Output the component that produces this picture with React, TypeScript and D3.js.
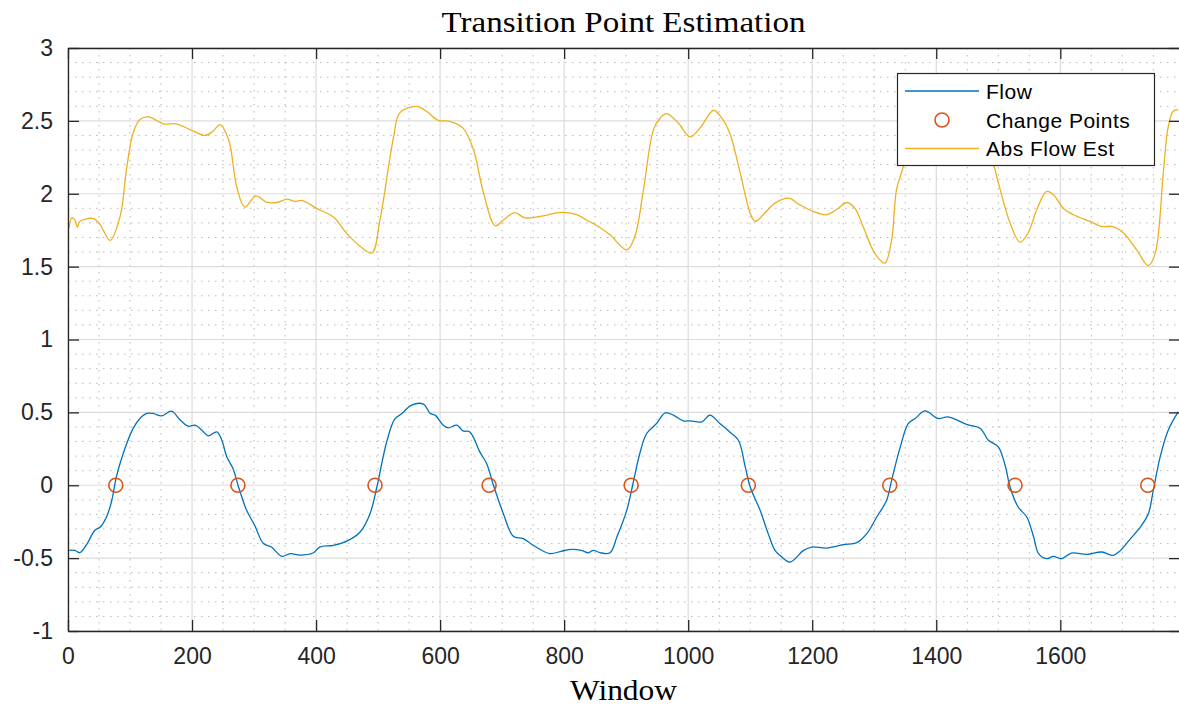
import React, { useEffect, useRef } from 'react';
import * as d3 from 'd3';

// Flow (blue) - window index / value
const flowWindow = [2, 11, 19, 31, 43, 52, 62, 70, 78, 89, 105, 116, 127, 137, 151, 167, 181, 194, 205, 216, 226, 240, 248, 256, 266, 275, 288, 301, 315, 328, 345, 358, 374, 395, 406, 428, 452, 471, 487, 498, 514, 527, 538, 554, 573, 584, 592, 605, 613, 627, 637, 648, 664, 675, 686, 702, 718, 734, 750, 777, 796, 812, 828, 839, 847, 858, 874, 885, 901, 911, 922, 933, 949, 963, 976, 992, 1003, 1022, 1035, 1051, 1067, 1081, 1092, 1100, 1116, 1129, 1140, 1148, 1164, 1186, 1199, 1223, 1250, 1272, 1288, 1304, 1320, 1328, 1342, 1355, 1366, 1382, 1403, 1419, 1449, 1471, 1484, 1500, 1511, 1519, 1532, 1546, 1557, 1565, 1578, 1589, 1602, 1618, 1643, 1667, 1685, 1696, 1712, 1731, 1742, 1750, 1761, 1774, 1790];
const flowValue = [-0.447, -0.447, -0.463, -0.4, -0.31, -0.287, -0.218, -0.115, 0.057, 0.218, 0.39, 0.458, 0.493, 0.493, 0.476, 0.508, 0.447, 0.405, 0.412, 0.378, 0.339, 0.366, 0.309, 0.195, 0.115, -0.012, -0.172, -0.275, -0.4, -0.424, -0.488, -0.469, -0.479, -0.465, -0.424, -0.412, -0.378, -0.321, -0.195, -0.012, 0.3, 0.455, 0.49, 0.55, 0.557, 0.493, 0.481, 0.412, 0.394, 0.412, 0.373, 0.366, 0.229, 0.149, 0.0, -0.195, -0.35, -0.366, -0.412, -0.469, -0.452, -0.44, -0.447, -0.463, -0.447, -0.463, -0.463, -0.355, -0.172, 0.012, 0.218, 0.355, 0.424, 0.497, 0.481, 0.442, 0.442, 0.435, 0.481, 0.424, 0.366, 0.309, 0.126, -0.012, -0.172, -0.332, -0.447, -0.481, -0.527, -0.447, -0.424, -0.431, -0.408, -0.394, -0.332, -0.218, -0.103, 0.034, 0.263, 0.424, 0.458, 0.51, 0.458, 0.469, 0.417, 0.39, 0.309, 0.263, 0.137, -0.012, -0.149, -0.218, -0.355, -0.469, -0.504, -0.488, -0.504, -0.465, -0.474, -0.458, -0.481, -0.452, -0.373, -0.275, -0.195, -0.034, 0.195, 0.378, 0.504];

// Abs Flow Est (yellow)
const absWindow = [2, 6, 11, 15, 19, 41, 52, 68, 84, 95, 105, 116, 130, 154, 175, 197, 221, 234, 245, 259, 272, 285, 303, 320, 337, 353, 366, 377, 401, 428, 449, 471, 490, 503, 525, 535, 562, 578, 597, 616, 637, 654, 670, 689, 702, 720, 737, 761, 796, 820, 836, 855, 874, 901, 914, 928, 944, 955, 965, 984, 1003, 1019, 1041, 1054, 1067, 1084, 1100, 1108, 1121, 1140, 1162, 1180, 1202, 1223, 1239, 1256, 1269, 1282, 1301, 1317, 1328, 1336, 1347, 1355, 1370, 1390, 1420, 1445, 1465, 1478, 1492, 1503, 1519, 1535, 1548, 1562, 1578, 1589, 1605, 1621, 1648, 1667, 1685, 1702, 1723, 1742, 1753, 1766, 1774, 1782, 1790];
const absValue = [1.768, 1.835, 1.82, 1.77, 1.81, 1.83, 1.787, 1.68, 1.844, 2.19, 2.417, 2.51, 2.527, 2.48, 2.48, 2.44, 2.4, 2.43, 2.474, 2.37, 2.05, 1.908, 1.986, 1.943, 1.94, 1.963, 1.947, 1.954, 1.9, 1.84, 1.73, 1.64, 1.594, 1.82, 2.39, 2.555, 2.6, 2.566, 2.504, 2.497, 2.45, 2.3, 2.005, 1.78, 1.82, 1.87, 1.835, 1.844, 1.872, 1.856, 1.82, 1.775, 1.718, 1.615, 1.707, 2.03, 2.44, 2.52, 2.55, 2.486, 2.39, 2.45, 2.573, 2.52, 2.417, 2.14, 1.867, 1.81, 1.856, 1.936, 1.97, 1.924, 1.878, 1.856, 1.89, 1.94, 1.9, 1.775, 1.59, 1.524, 1.684, 2.03, 2.19, 2.4, 2.52, 2.55, 2.5, 2.48, 2.5, 2.42, 2.21, 2.03, 1.8, 1.668, 1.73, 1.89, 2.016, 1.993, 1.9, 1.856, 1.81, 1.775, 1.775, 1.73, 1.615, 1.507, 1.59, 2.14, 2.46, 2.566, 2.577];

const changePoints = [77, 274, 495, 679, 908, 1097, 1325, 1527, 1741];

const xTicks = [0, 200, 400, 600, 800, 1000, 1200, 1400, 1600];
const yTicks = [-1, -0.5, 0, 0.5, 1, 1.5, 2, 2.5, 3];
const legendLabels = ['Flow', 'Change Points', 'Abs Flow Est'];

export default function App() {
  const ref = useRef<SVGSVGElement>(null);

  useEffect(() => {
    document.body.style.margin = '0';
    const svg = d3.select(ref.current);
    svg.selectAll('*').remove();

    const left = 68, right = 1180, top = 48, bottom = 631;
    const x = d3.scaleLinear().domain([0, 1793]).range([left, right]);
    const y = d3.scaleLinear().domain([-1, 3]).range([bottom, top]);

    const blue = '#0072BD', yellow = '#EDB120', red = '#D95319', ink = '#262626';

    svg.append('rect').attr('x', left).attr('y', top)
      .attr('width', right - left).attr('height', bottom - top).attr('fill', '#fff');

    // minor grid
    const g = svg.append('g');
    d3.range(50, 1793, 50).filter(v => v % 200 !== 0).forEach(v => {
      g.append('line').attr('x1', x(v)).attr('x2', x(v)).attr('y1', top).attr('y2', bottom)
        .attr('stroke', '#b8b8b8').attr('stroke-width', 1).attr('stroke-dasharray', '1.5,5.5');
    });
    d3.range(-9, 30).map(i => i / 10).filter(v => Math.abs(v * 2 - Math.round(v * 2)) > 1e-6).forEach(v => {
      g.append('line').attr('x1', left).attr('x2', right).attr('y1', y(v)).attr('y2', y(v))
        .attr('stroke', '#b8b8b8').attr('stroke-width', 1).attr('stroke-dasharray', '1.5,5.5');
    });
    // major grid
    xTicks.forEach(v => {
      g.append('line').attr('x1', x(v)).attr('x2', x(v)).attr('y1', top).attr('y2', bottom)
        .attr('stroke', '#dcdcdc').attr('stroke-width', 1.2);
    });
    yTicks.forEach(v => {
      g.append('line').attr('x1', left).attr('x2', right).attr('y1', y(v)).attr('y2', y(v))
        .attr('stroke', '#dcdcdc').attr('stroke-width', 1.2);
    });

    svg.append('clipPath').attr('id', 'plot-clip').append('rect')
      .attr('x', left).attr('y', top).attr('width', right - left).attr('height', bottom - top);

    const plot = svg.append('g').attr('clip-path', 'url(#plot-clip)');
    const line = d3.line<[number, number]>().curve(d3.curveCatmullRom.alpha(0.5));

    const flowPts = flowWindow.map((w, i) => [x(w), y(flowValue[i])] as [number, number]);
    const absPts = absWindow.map((w, i) => [x(w), y(absValue[i])] as [number, number]);

    plot.append('path').attr('d', line(flowPts)).attr('fill', 'none')
      .attr('stroke', blue).attr('stroke-width', 1.3);
    plot.selectAll('circle.cp').data(changePoints).enter().append('circle')
      .attr('cx', d => x(d)).attr('cy', y(0)).attr('r', 7)
      .attr('fill', 'none').attr('stroke', red).attr('stroke-width', 1.6);
    plot.append('path').attr('d', line(absPts)).attr('fill', 'none')
      .attr('stroke', yellow).attr('stroke-width', 1.3);

    // axes
    const font = 'Liberation Sans, Arial, Helvetica, sans-serif';
    const ax = svg.append('g').attr('transform', `translate(0,${bottom})`)
      .call(d3.axisBottom(x).tickValues(xTicks).tickSize(-11).tickSizeOuter(0).tickPadding(17).tickFormat(d => String(d)));
    const ay = svg.append('g').attr('transform', `translate(${left},0)`)
      .call(d3.axisLeft(y).tickValues(yTicks).tickSize(-11).tickSizeOuter(0).tickPadding(15).tickFormat(d => String(d)));
    const at = svg.append('g').attr('transform', `translate(0,${top})`)
      .call(d3.axisTop(x).tickValues(xTicks).tickSize(-11).tickSizeOuter(0).tickFormat(() => ''));
    const ar = svg.append('g').attr('transform', `translate(${right},0)`)
      .call(d3.axisRight(y).tickValues(yTicks).tickSize(-11).tickSizeOuter(0).tickFormat(() => ''));
    [ax, ay, at, ar].forEach(a => {
      a.selectAll('path, line').attr('stroke', ink).attr('stroke-width', 1.3);
      a.selectAll('text').attr('fill', ink).attr('font-size', 23).attr('font-family', font);
    });

    // title & label
    const serif = 'Liberation Serif, DejaVu Serif, serif';
    svg.append('text').attr('x', 623.5).attr('y', 32).attr('text-anchor', 'middle')
      .attr('font-family', serif).attr('font-size', 30).attr('fill', '#000')
      .attr('textLength', 364).attr('lengthAdjust', 'spacingAndGlyphs')
      .text('Transition Point Estimation');
    svg.append('text').attr('x', 623.5).attr('y', 700).attr('text-anchor', 'middle')
      .attr('font-family', serif).attr('font-size', 30).attr('fill', '#000')
      .attr('textLength', 107).attr('lengthAdjust', 'spacingAndGlyphs')
      .text('Window');

    // legend
    const lg = svg.append('g');
    lg.append('rect').attr('x', 897.5).attr('y', 73.5).attr('width', 257).attr('height', 92)
      .attr('fill', '#fff').attr('stroke', ink).attr('stroke-width', 1.2);
    const rows = [91, 120, 148.5];
    lg.append('line').attr('x1', 905).attr('x2', 979).attr('y1', rows[0]).attr('y2', rows[0])
      .attr('stroke', blue).attr('stroke-width', 1.3);
    lg.append('circle').attr('cx', 942).attr('cy', rows[1]).attr('r', 7)
      .attr('fill', 'none').attr('stroke', red).attr('stroke-width', 1.6);
    lg.append('line').attr('x1', 905).attr('x2', 979).attr('y1', rows[2]).attr('y2', rows[2])
      .attr('stroke', yellow).attr('stroke-width', 1.3);
    legendLabels.forEach((t, i) => {
      lg.append('text').attr('x', 986).attr('y', rows[i] + 7.5)
        .attr('font-family', font).attr('font-size', 21).attr('letter-spacing', 0.5)
        .attr('fill', '#000').text(t);
    });
  }, []);

  return (
    <div className='chart'>
      <svg ref={ref} width={1179} height={705} style={{ display: 'block' }} />
    </div>
  );
}
